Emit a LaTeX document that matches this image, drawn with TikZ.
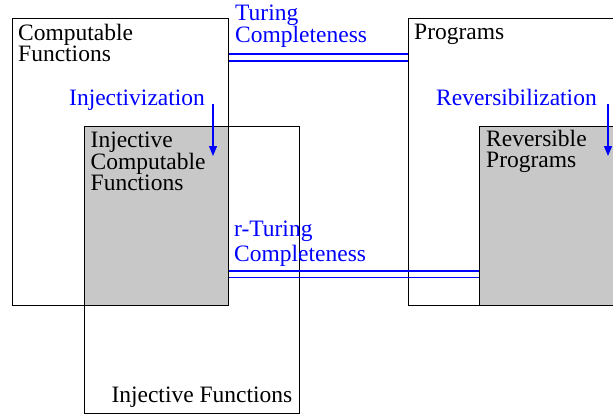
\documentclass[tikz,border=0pt]{standalone}
\usepackage{fontspec}
\setmainfont{Liberation Serif}
\newfontfamily\labelfont{Liberation Serif}
\usetikzlibrary{arrows.meta}
\definecolor{setgray}{RGB}{200,200,200}
\definecolor{linkblue}{RGB}{0,0,255}
\tikzset{
  setbox/.style={draw=black, line width=1pt, inner sep=0pt, anchor=north west},
  subset/.style={setbox, fill=setgray},
  % multi-line labels are placed by the baseline of their last line
  label/.style={inner sep=0pt, anchor=base west, align=left,
    font=\labelfont\fontsize{23.5}{21}\selectfont},
  bluelabel/.style={label, text=linkblue},
  link/.style={draw=linkblue, line width=1.2pt},
  refine/.style={draw=linkblue, line width=1.2pt,
    -{Triangle[length=10pt,width=8pt]}},
}
\begin{document}
\begin{tikzpicture}[x=1pt, y=-1pt]
\useasboundingbox (0,0) rectangle (613,415);
\clip (0,0) rectangle (613,415);

% set boxes
\node[setbox, minimum width=216pt, minimum height=287pt] (cf) at (12,18) {};
\node[setbox, minimum width=220pt, minimum height=287pt] (prog) at (408,18) {};
\node[setbox, minimum width=215pt, minimum height=287pt] (inj) at (84,126) {};
\node[subset, minimum width=144pt, minimum height=179pt] (icf) at (84,126) {};
\node[subset, minimum width=150pt, minimum height=179pt] (rp) at (479,126) {};

% set names
\node[label] (cfl) at (18,61.7) {Computable\\Functions};
\node[label] (progl) at (414,39.5) {Programs};
\node[label] (icfl) at (90.5,190.7) {Injective\\Computable\\Functions};
\node[label] (rpl) at (486,167.7) {Reversible\\Programs};
\node[label, anchor=base east] (injl) at (292.5,402) {Injective Functions};

% Turing completeness link
\draw[link] ([yshift=-36pt]cf.north east) -- ([yshift=-36pt]cf.north east -| prog.west);
\draw[link] ([yshift=-43pt]cf.north east) -- ([yshift=-43pt]cf.north east -| prog.west);
\node[bluelabel] (tcl) at (235,42.7) {Turing\\Completeness};

% r-Turing completeness link
\draw[link] ([yshift=35pt]icf.south east) -- ([yshift=35pt]icf.south east -| rp.west);
\draw[link] ([yshift=28.5pt]icf.south east) -- ([yshift=28.5pt]icf.south east -| rp.west);
\node[bluelabel, font=\labelfont\fontsize{23.5}{25}\selectfont] (rtcl) at (234,261.7) {r-Turing\\Completeness};

% refinement arrows
\node[bluelabel] (injz) at (69,105) {Injectivization};
\coordinate (injzs) at (213,104);
\coordinate (injze) at (213,156);
\draw[refine] (injzs) -- (injze);

\node[bluelabel] (revz) at (436,105) {Reversibilization};
\coordinate (revzs) at (608,104);
\coordinate (revze) at (608,156);
\draw[refine] (revzs) -- (revze);
\end{tikzpicture}
\end{document}
